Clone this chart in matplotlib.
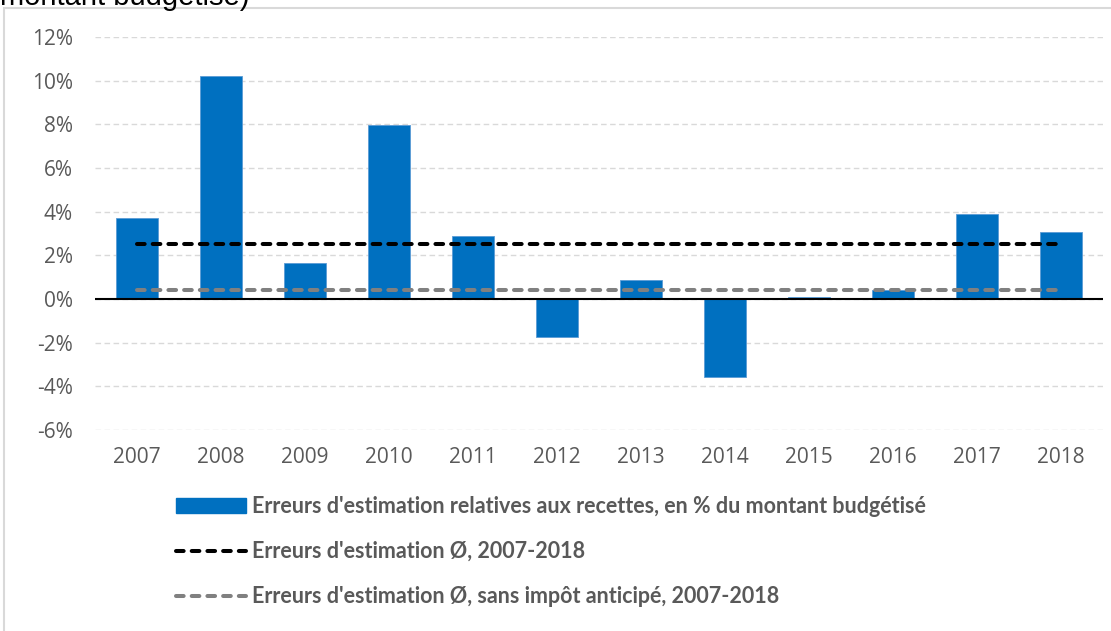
import matplotlib
matplotlib.use("Agg")
import matplotlib.pyplot as plt
from matplotlib.patches import Rectangle, Patch
from matplotlib.lines import Line2D

years = ["2007", "2008", "2009", "2010", "2011", "2012",
         "2013", "2014", "2015", "2016", "2017", "2018"]
errors = [3.7, 10.2, 1.65, 7.95, 2.9, -1.75, 0.85, -3.57, 0.1, 0.4, 3.88, 3.07]
mean_all = 2.5
mean_no_wht = 0.4

label_bars = "Erreurs d'estimation relatives aux recettes, en % du montant budgétisé"
label_mean = "Erreurs d'estimation Ø, 2007-2018"
label_mean2 = "Erreurs d'estimation Ø, sans impôt anticipé, 2007-2018"

W, H = 1111, 631
fig = plt.figure(figsize=(W / 100, H / 100), dpi=100)

# frame of the chart (cut at right/bottom)
fig.patches.append(Rectangle((4 / W, -0.1), 1.2, 1.1 - 8 / H, transform=fig.transFigure,
                             fill=False, edgecolor="#d9d9d9", linewidth=1.5))
# clipped title fragment at the top
fig.text(0 / W, 1 - 5 / H, "montant budgétisé)", fontsize=21, family="Liberation Sans",
         ha="left", va="baseline", color="black")

ax = fig.add_axes([95 / W, 1 - 430 / H, (1103 - 95) / W, (430 - 37) / H])
x = list(range(len(years)))
dash = (0, (1.9, 2.0))
ax.bar(x, errors, width=0.5, color="#0070C0", edgecolor="#5b9bd5", linewidth=0.6, zorder=2)
ax.plot([x[0], x[-1]], [mean_all] * 2, color="black", lw=2.9, ls=dash,
        dash_capstyle="round", zorder=3)
ax.plot([x[0], x[-1]], [mean_no_wht] * 2, color="#808080", lw=2.9, ls=dash,
        dash_capstyle="round", zorder=3)
ax.axhline(0, color="black", lw=1.5, zorder=2.5)

ax.set_xlim(-0.5, len(years) - 0.5)
ax.set_ylim(-6, 12)
ax.set_yticks(range(-6, 13, 2))
ax.set_yticklabels([f"{v}%" for v in range(-6, 13, 2)])
ax.set_xticks(x)
ax.set_xticklabels(years)
ax.yaxis.grid(True, color="#d9d9d9", ls=(0, (4, 2.5)), lw=1)
ax.set_axisbelow(True)
for s in ax.spines.values():
    s.set_visible(False)
ax.tick_params(length=0, labelsize=15, labelcolor="#595959")
ax.tick_params(axis="y", pad=16)
ax.tick_params(axis="x", pad=12)
for t in ax.get_xticklabels() + ax.get_yticklabels():
    t.set_family("Open Sans")

handles = [Patch(color="#0070C0"),
           Line2D([], [], color="black", lw=2.9, ls=dash, dash_capstyle="round"),
           Line2D([], [], color="#808080", lw=2.9, ls=dash, dash_capstyle="round")]
leg = fig.legend(handles, [label_bars, label_mean, label_mean2], loc="upper left",
                 bbox_to_anchor=(176 / W, 1 - 496 / H), frameon=False,
                 prop={"family": "Lato", "weight": "bold", "size": 15.5},
                 labelcolor="#595959", handlelength=3.25, handleheight=0.65,
                 handletextpad=0.28, labelspacing=1.12, borderaxespad=0, borderpad=0)

fig.savefig("out.png", dpi=100)
